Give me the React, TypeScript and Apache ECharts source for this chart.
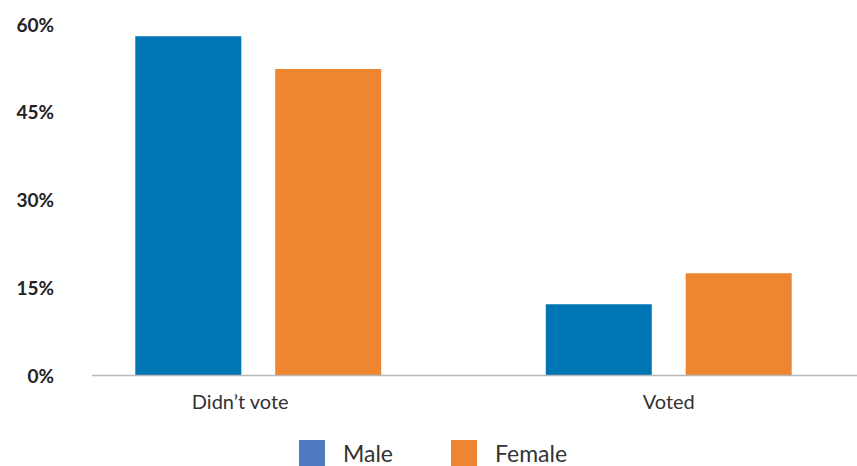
import React, { useEffect, useRef } from "react";
import * as echarts from "echarts";

const categories = ["Didn’t vote", "Voted"];
const maleValues = [57.9, 12.1];
const femaleValues = [52.3, 17.4];
const yTicks = [0, 15, 30, 45, 60];

export default function App() {
  const ref = useRef<HTMLDivElement>(null);
  useEffect(() => {
    if (!ref.current) return;
    const chart = echarts.init(ref.current, undefined, { renderer: "svg" });
    chart.setOption({
      animation: false,
      backgroundColor: "#ffffff",
      grid: {
        left: 53,
        width: 821,
        top: 24,
        height: 351,
        containLabel: false,
        outerBoundsMode: "none",
      },
      legend: {
        left: 299,
        top: 440,
        padding: 0,
        itemWidth: 26,
        itemHeight: 26,
        itemGap: 58,
        icon: "rect",
        textStyle: {
          fontFamily: "Lato",
          fontSize: 23,
          color: "#333333",
          padding: [4, 0, 0, 13],
        },
        data: [
          { name: "Male", itemStyle: { color: "#4f7bc0" } },
          { name: "Female", itemStyle: { color: "#ee8530" } },
        ],
      },
      xAxis: {
        type: "category",
        data: [
          { value: categories[0], textStyle: { padding: [0, 36, 0, 0] } },
          { value: categories[1] },
        ],
        axisLine: { show: false },
        axisTick: { show: false },
        axisLabel: {
          fontFamily: "Lato",
          fontSize: 20,
          color: "#333333",
          margin: 16,
        },
      },
      yAxis: {
        type: "value",
        min: yTicks[0],
        max: yTicks[yTicks.length - 1],
        interval: 15,
        splitLine: { show: false },
        axisLine: { show: false },
        axisTick: { show: false },
        axisLabel: {
          formatter: "{value}%",
          fontFamily: "Lato",
          fontWeight: "bold",
          fontSize: 19,
          color: "#222222",
          margin: -1,
        },
      },
      graphic: [
        {
          type: "line",
          shape: { x1: 92, y1: 375.5, x2: 857, y2: 375.5 },
          style: { stroke: "#b8b8b8", lineWidth: 1.5 },
          z: 10,
        },
      ],
      series: [
        {
          name: "Male",
          type: "bar",
          data: maleValues,
          barWidth: 106,
          barGap: "32%",
          itemStyle: { color: "#0075b4" },
        },
        {
          name: "Female",
          type: "bar",
          data: femaleValues,
          barWidth: 106,
          itemStyle: { color: "#ee8530" },
        },
      ],
    });
    return () => chart.dispose();
  }, []);
  return (
    <div
      ref={ref}
      style={{ position: "fixed", left: 0, top: 0, width: 857, height: 466 }}
    />
  );
}
